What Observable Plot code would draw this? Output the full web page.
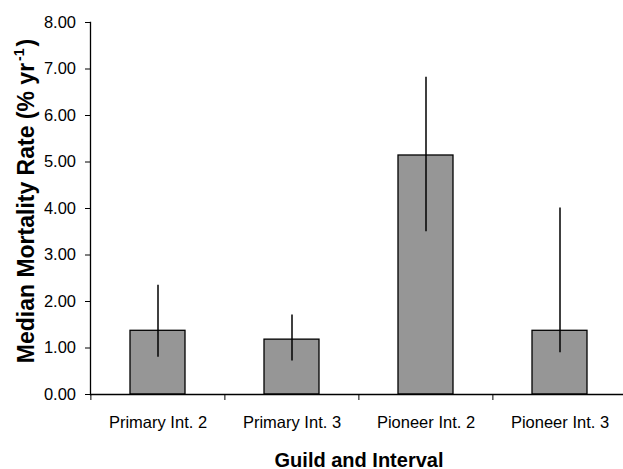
<!DOCTYPE html>
<html>
<head>
<meta charset="utf-8">
<script src="https://cdn.jsdelivr.net/npm/d3@7"></script>
<script src="https://cdn.jsdelivr.net/npm/@observablehq/plot@0.6"></script>
<style>
  html, body { margin: 0; padding: 0; background: white; }
  #chart svg { display: block; }
  g[aria-label="x-axis label"] text { font-weight: bold; font-size: 20px; }
</style>
</head>
<body>
<div id="chart"></div>
<script>
const categories = ["Primary Int. 2", "Primary Int. 3", "Pioneer Int. 2", "Pioneer Int. 3"];
const medians = [1.37, 1.18, 5.14, 1.37];
const lows = [0.80, 0.72, 3.50, 0.90];
const highs = [2.35, 1.71, 6.82, 4.01];
const yTicks = [0, 1, 2, 3, 4, 5, 6, 7, 8];
const xTitle = "Guild and Interval";
const yTitle = "Median Mortality Rate (% yr";
const yTitleSup = "-1";
const yTitleEnd = ")";

const data = categories.map((c, i) => ({cat: c, median: medians[i], lo: lows[i], hi: highs[i]}));

const width = 623, height = 469;
const marginLeft = 90, marginRight = -4, marginTop = 22, marginBottom = 75;
const step = (width - marginLeft - marginRight) / categories.length;

const svg = Plot.plot({
  width, height, marginLeft, marginRight, marginTop, marginBottom,
  style: {fontFamily: "'Liberation Sans', Arial, sans-serif", fontSize: "16.5px", color: "black", background: "white", overflow: "hidden"},
  x: {domain: categories, paddingInner: 0.586, paddingOuter: 0.293},
  y: {domain: [0, 8]},
  marks: [
    Plot.barY(data, {x: "cat", y: "median", fill: "#969696", stroke: "black", strokeWidth: 1.3}),
    Plot.ruleX(data, {x: "cat", y1: "lo", y2: "hi", stroke: "black", strokeWidth: 1.5}),
    Plot.ruleY([0], {stroke: "black", strokeWidth: 1.3}),
    Plot.frame({anchor: "left", stroke: "black", strokeWidth: 1.3}),
    Plot.axisY(yTicks, {tickSize: 5, tickPadding: 9.5, tickFormat: d3.format(".2f"), label: null}),
    Plot.axisX({tickSize: 0, tickPadding: 22, label: xTitle, labelAnchor: "center", labelArrow: "none"}),
    Plot.axisX({tickSize: 6, tickFormat: () => "", dx: -step / 2, label: null})
  ]
});

const yt = d3.select(svg).append("text")
  .attr("transform", "translate(34, 201) rotate(-90)")
  .attr("text-anchor", "middle")
  .attr("fill", "black")
  .style("font-family", "'Liberation Sans', Arial, sans-serif")
  .style("font-weight", "bold")
  .style("font-size", "23px");
yt.append("tspan").text(yTitle);
yt.append("tspan").attr("dy", "-10").attr("dx", "2").style("font-size", "14px").text(yTitleSup);
yt.append("tspan").attr("dy", "10").attr("dx", "2").text(yTitleEnd);

document.getElementById("chart").appendChild(svg);
</script>
</body>
</html>
